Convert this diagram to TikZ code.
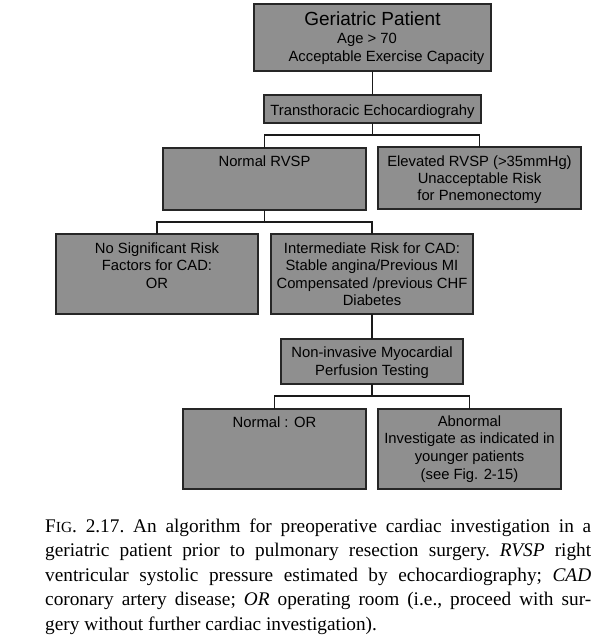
\documentclass[tikz,border=0pt]{standalone}
\usepackage{fontspec}
\setmainfont{Liberation Serif}
\newfontfamily\boxfont{Liberation Sans}
\definecolor{boxfill}{HTML}{8F8F8F}
\definecolor{boxline}{HTML}{262626}
\definecolor{connline}{HTML}{1A1A1A}
\newcommand{\bxt}[5][17.5]{\parbox[c][#3pt][t]{#2pt}{\centering\boxfont\fontsize{14.8}{#1}\selectfont\rule{0pt}{#4pt}#5}}
\tikzset{
  flowbox/.style={draw=boxline, fill=boxfill, line width=1.5pt, inner sep=0pt, outer sep=0pt},
  conn/.style={draw=connline, line width=1.6pt},
}
\begin{document}
\begin{tikzpicture}[x=1pt,y=-1pt]
\fill[white] (0,0) rectangle (601,642);
\useasboundingbox (0,0) rectangle (601,642);

\node[flowbox] (top) at (372.5,37.5) {\parbox[c][67pt][t]{237pt}{\centering\boxfont\fontsize{14.8}{17.6}\selectfont
  {\fontsize{19}{22}\selectfont\rule{0pt}{22pt}Geriatric Patient\par}
  Age > 70\rule{11pt}{0pt}\\
  \rule{28pt}{0pt}Acceptable Exercise Capacity}};
\node[flowbox] (echo) at (372.5,109) {\bxt{217}{28}{20}{Transthoracic Echocardiograhy}};
\node[flowbox] (normrvsp) at (264.5,179) {\bxt{203}{62}{18}{Normal RVSP}};
\node[flowbox] (elev) at (479.5,178) {\bxt[16.8]{203}{62}{19.5}{Elevated RVSP (>35mmHg)\\Unacceptable Risk\\for Pnemonectomy}};
\node[flowbox] (nosig) at (157,274) {\bxt{202}{80}{19.3}{No Significant Risk\\Factors for CAD:\\OR}};
\node[flowbox] (inter) at (372,274) {\bxt{202}{80}{19.3}{Intermediate Risk for CAD:\\Stable angina/Previous MI\\Compensated /previous CHF\\Diabetes}};
\node[flowbox] (noninv) at (372,361.5) {\bxt[18]{182}{45}{18.7}{Non-invasive Myocardial\\Perfusion Testing}};
\node[flowbox] (normor) at (274.5,449) {\bxt{183}{80}{18.3}{Normal : OR}};
\node[flowbox] (abn) at (469.5,449) {\bxt[17.7]{183}{80}{17}{Abnormal\\Investigate as indicated in\\younger patients\\(see Fig. 2-15)}};

\coordinate (j1) at (372.5,135);
\coordinate (j2) at (264.5,222);
\coordinate (j3) at (372,396);

\draw[conn] (top) -- (echo);
\draw[conn] (echo) -- (j1);
\draw[conn] (normrvsp.north) |- (j1) -| (elev.north);
\draw[conn] (normrvsp) -- (j2);
\draw[conn] (nosig.north) |- (j2) -| (inter.north);
\draw[conn] (inter) -- (noninv);
\draw[conn] (noninv) -- (j3);
\draw[conn] (normor.north) |- (j3) -| (abn.north);

\node[inner sep=0pt, anchor=base west] (caption) at (45,630) {\vbox{\hsize=546pt\frenchspacing\fontsize{19.3}{24.5}\selectfont
  \hbox to\hsize{F{\fontsize{15.4}{24.5}\selectfont IG}. 2.17. An algorithm for preoperative cardiac investigation in a}
  \hbox to\hsize{geriatric patient prior to pulmonary resection surgery. \textit{RVSP} right}
  \hbox to\hsize{ventricular systolic pressure estimated by echocardiography; \textit{CAD}}
  \hbox to\hsize{coronary artery disease; \textit{OR} operating room (i.e., proceed with sur-}
  \hbox{gery without further cardiac investigation).}}};
\end{tikzpicture}
\end{document}
